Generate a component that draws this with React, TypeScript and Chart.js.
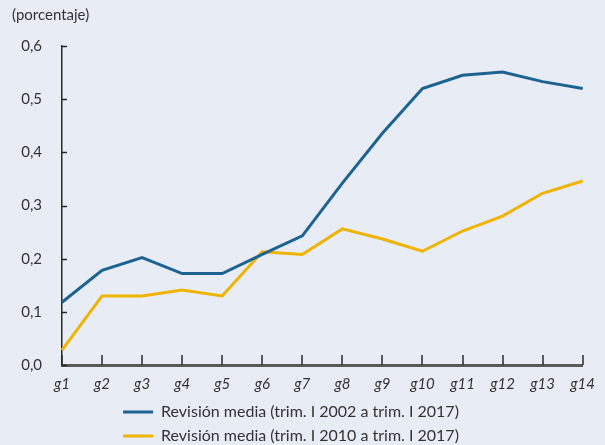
import React, { useEffect, useRef } from "react";
import { Chart, registerables } from "chart.js";

Chart.register(...registerables);

const categories = ["g1", "g2", "g3", "g4", "g5", "g6", "g7", "g8", "g9", "g10", "g11", "g12", "g13", "g14"];
const serie2002 = [0.118, 0.178, 0.202, 0.172, 0.172, 0.208, 0.243, 0.342, 0.436, 0.52, 0.545, 0.551, 0.533, 0.52];
const serie2010 = [0.028, 0.13, 0.13, 0.141, 0.13, 0.213, 0.208, 0.256, 0.237, 0.214, 0.252, 0.28, 0.323, 0.346];
const label2002 = "Revisión media (trim. I 2002 a trim. I 2017)";
const label2010 = "Revisión media (trim. I 2010 a trim. I 2017)";
const unitLabel = "(porcentaje)";

const FONT = "Lato, 'Open Sans', sans-serif";
const BG = "#e8ecf5";

const tickMarks = {
  id: "tickMarks",
  afterLayout(chart: any) {
    const lg = chart.legend;
    if (lg) {
      lg.left -= 6;
      lg.right -= 6;
    }
  },
  afterDraw(chart: any) {
    const ctx = chart.ctx;
    const x = chart.scales.x;
    const y = chart.scales.y;
    const area = chart.chartArea;
    ctx.save();
    ctx.strokeStyle = "#2a2a2a";
    ctx.lineWidth = 1.5;
    y.ticks.forEach((_t: any, i: number) => {
      const py = Math.round(y.getPixelForTick(i)) + 0.5;
      ctx.beginPath();
      ctx.moveTo(area.left, py);
      ctx.lineTo(area.left + 5, py);
      ctx.stroke();
    });
    x.ticks.forEach((_t: any, i: number) => {
      const px = Math.round(x.getPixelForTick(i));
      ctx.beginPath();
      ctx.moveTo(px, area.bottom);
      ctx.lineTo(px, area.bottom - 10);
      ctx.stroke();
    });
    ctx.fillStyle = "#333";
    ctx.font = "15px " + FONT;
    ctx.textBaseline = "middle";
    ctx.textAlign = "left";
    ctx.fillText(unitLabel, 12, 15);
    ctx.restore();
  },
};

const bgPlugin = {
  id: "bgPlugin",
  beforeDraw(chart: any) {
    const ctx = chart.ctx;
    ctx.save();
    ctx.fillStyle = BG;
    ctx.fillRect(0, 0, chart.width, chart.height);
    ctx.restore();
  },
};

export default function App() {
  const ref = useRef<HTMLCanvasElement | null>(null);
  useEffect(() => {
    if (!ref.current) return;
    const chart = new Chart(ref.current, {
      type: "line",
      data: {
        labels: categories,
        datasets: [
          {
            label: label2002,
            data: serie2002,
            borderColor: "#1c6391",
            backgroundColor: "#1c6391",
            borderWidth: 3,
            pointRadius: 0,
            tension: 0,
          },
          {
            label: label2010,
            data: serie2010,
            borderColor: "#f0b400",
            backgroundColor: "#f0b400",
            borderWidth: 3,
            pointRadius: 0,
            tension: 0,
          },
        ],
      },
      options: {
        animation: false,
        responsive: false,
        maintainAspectRatio: false,
        layout: { padding: { top: 46, right: 11, left: 0, bottom: -9 } },
        plugins: {
          tooltip: { enabled: false },
          title: { display: false },
          legend: {
            position: "bottom",
            labels: {
              usePointStyle: true,
              pointStyle: "line",
              pointStyleWidth: 30,
              boxHeight: 3,
              color: "#333",
              font: { family: FONT, size: 16 },
              padding: 8,
            },
          },
        },
        scales: {
          x: {
            offset: false,
            grid: { display: false, drawTicks: false },
            border: { display: true, color: "#5a5a5a", width: 3 },
            ticks: {
              color: "#333",
              font: { family: FONT, size: 15, style: "italic" },
              padding: 10,
              maxRotation: 0,
              autoSkip: false,
            },
            afterFit: (s: any) => {
              s.height = 31;
            },
          },
          y: {
            min: 0,
            max: 0.6,
            grid: { display: false, drawTicks: false },
            border: { display: true, color: "#2a2a2a", width: 1.5 },
            ticks: {
              stepSize: 0.1,
              color: "#333",
              font: { family: FONT, size: 15 },
              padding: 20,
              callback: (v: any) => Number(v).toFixed(1).replace(".", ","),
            },
            afterFit: (s: any) => {
              s.width = 62;
            },
          },
        },
      },
      plugins: [bgPlugin, tickMarks],
    });
    return () => chart.destroy();
  }, []);
  return (
    <div style={{ position: "fixed", left: 0, top: 0, width: 605, height: 445, background: BG }}>
      <canvas ref={ref} width={605} height={445} style={{ display: "block" }} />
    </div>
  );
}
